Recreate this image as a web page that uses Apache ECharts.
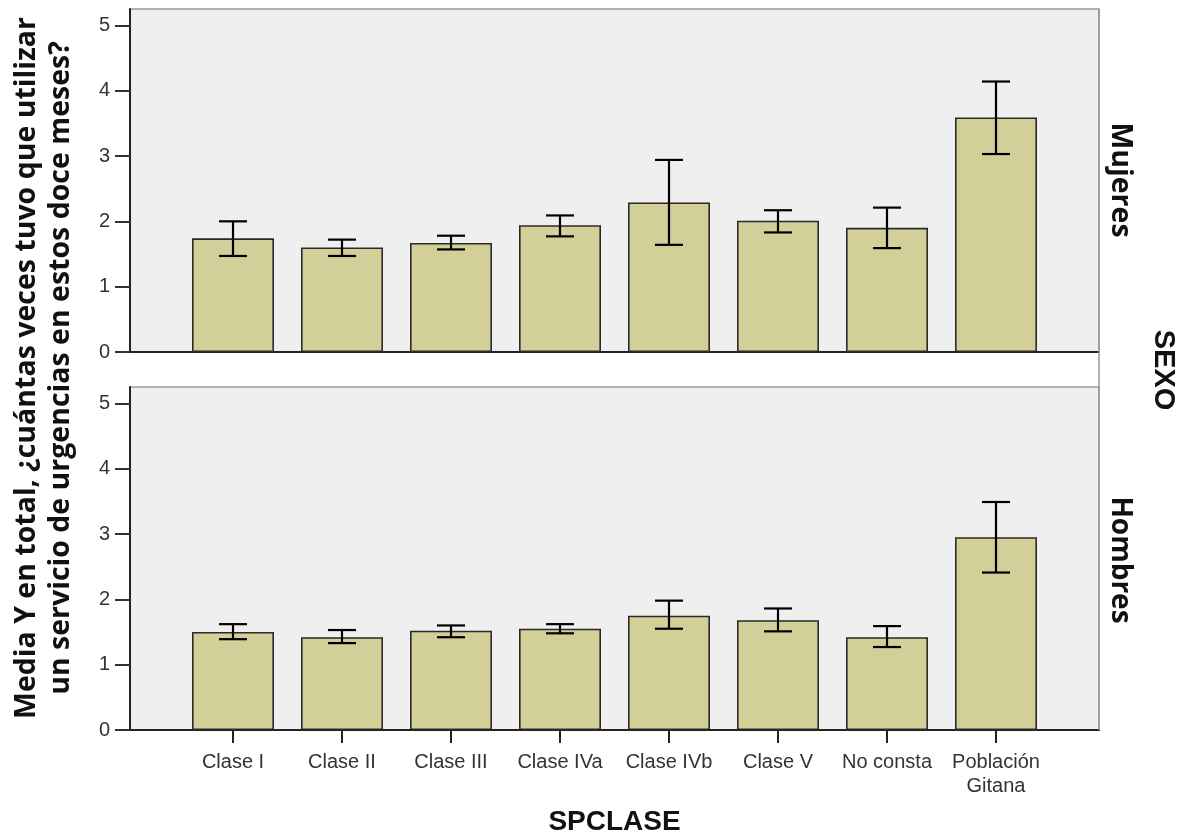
<!DOCTYPE html>
<html>
<head>
<meta charset="utf-8">
<script src="https://cdn.jsdelivr.net/npm/echarts@6/dist/echarts.min.js"></script>
<style>
html,body{margin:0;padding:0;background:#fff;}
#chart{width:1179px;height:836px;}
</style>
</head>
<body>
<div id="chart"></div>
<script>
const categories = ['Clase I','Clase II','Clase III','Clase IVa','Clase IVb','Clase V','No consta','Población\nGitana'];
const mujeresMean = [1.74,1.60,1.67,1.94,2.29,2.01,1.90,3.59];
const mujeresLow  = [1.47,1.47,1.57,1.77,1.64,1.83,1.59,3.03];
const mujeresHigh = [2.00,1.72,1.78,2.09,2.94,2.17,2.21,4.14];
const hombresMean = [1.50,1.42,1.52,1.55,1.75,1.68,1.42,2.95];
const hombresLow  = [1.39,1.33,1.42,1.48,1.55,1.51,1.27,2.41];
const hombresHigh = [1.62,1.53,1.60,1.62,1.98,1.86,1.59,3.49];
const yTicks = [0,1,2,3,4,5];
const yMax = 5.25;
const panelNames = ['Mujeres','Hombres'];
const yTitle = 'Media Y en total, ¿cuántas veces tuvo que utilizar\nun servicio de urgencias en estos doce meses?';
const xTitle = 'SPCLASE';
const facetTitle = 'SEXO';

const chart = echarts.init(document.getElementById('chart'), null, {renderer:'canvas'});

const panelTop = [9, 387];
const panelH = 343;
const frameL = 130, frameR = 1179 - 1099;
const barL = 178.5, barR = 1179 - 1050.5;

const grids = [];
panelTop.forEach(t => {
  grids.push({left: frameL, right: frameR, top: t, height: panelH, show: true,
    backgroundColor: '#efefef', borderColor: '#9a9a9a', borderWidth: 1.5});
  grids.push({left: barL, right: barR, top: t, height: panelH, show: false});
});

const xAxes = [], yAxes = [];
[0,1].forEach(p => {
  xAxes.push({gridIndex: p*2, type: 'value', min: 0, max: 1,
    axisLine: {show: true, lineStyle: {color: '#222', width: 2}},
    axisTick: {show: false}, axisLabel: {show: false}, splitLine: {show: false}});
  yAxes.push({gridIndex: p*2, type: 'value', min: 0, max: yMax,
    axisLine: {show: true, lineStyle: {color: '#222', width: 2}},
    axisTick: {show: true, length: 15, customValues: yTicks, lineStyle: {color: '#333', width: 2}},
    axisLabel: {show: true, customValues: yTicks, fontSize: 20, color: '#333', margin: 20,
      fontFamily: '"Liberation Sans", Arial, sans-serif'},
    splitLine: {show: false}});
  xAxes.push({gridIndex: p*2+1, type: 'category', data: categories, boundaryGap: true,
    axisLine: {show: false},
    axisTick: {show: p === 1, alignWithLabel: true, length: 13, lineStyle: {color: '#222', width: 2}},
    axisLabel: {show: p === 1, fontSize: 20, color: '#333', margin: 20, lineHeight: 24,
      fontFamily: '"Liberation Sans", Arial, sans-serif', interval: 0},
    splitLine: {show: false}});
  yAxes.push({gridIndex: p*2+1, type: 'value', min: 0, max: yMax, show: false});
});

function errData(lo, hi) { return categories.map((c, i) => [i, lo[i], hi[i]]); }

function errRender(params, api) {
  const x = api.value(0);
  const lo = api.coord([x, api.value(1)]);
  const hi = api.coord([x, api.value(2)]);
  const hw = 14;
  const st = {stroke: '#000', lineWidth: 2.2};
  return {type: 'group', children: [
    {type: 'line', shape: {x1: lo[0], y1: lo[1], x2: hi[0], y2: hi[1]}, style: st},
    {type: 'line', shape: {x1: hi[0]-hw, y1: hi[1], x2: hi[0]+hw, y2: hi[1]}, style: st},
    {type: 'line', shape: {x1: lo[0]-hw, y1: lo[1], x2: lo[0]+hw, y2: lo[1]}, style: st}
  ]};
}

const means = [mujeresMean, hombresMean];
const lows = [mujeresLow, hombresLow];
const highs = [mujeresHigh, hombresHigh];
const series = [];
[0,1].forEach(p => {
  series.push({type: 'bar', name: panelNames[p], xAxisIndex: p*2+1, yAxisIndex: p*2+1,
    data: means[p], barWidth: 82,
    itemStyle: {color: '#d3cf98', borderColor: '#2a2a2a', borderWidth: 1.6},
    silent: true, z: 3});
  series.push({type: 'custom', xAxisIndex: p*2+1, yAxisIndex: p*2+1,
    data: errData(lows[p], highs[p]), renderItem: errRender,
    encode: {x: 0, y: [1, 2]}, silent: true, z: 5});
});

const boldOpen = '"Open Sans", "Noto Sans", sans-serif';
const boldLib = '"Liberation Sans", Arial, sans-serif';

chart.setOption({
  animation: false,
  grid: grids,
  xAxis: xAxes,
  yAxis: yAxes,
  series: series,
  graphic: [
    {type: 'line', shape: {x1: 1099, y1: 9, x2: 1099, y2: 730}, style: {stroke: '#9a9a9a', lineWidth: 1.5}, z: 1},
    {type: 'text', x: 44, y: 368, rotation: Math.PI/2,
      style: {text: yTitle, font: 'bold 28.5px ' + boldOpen, fill: '#111', align: 'center', verticalAlign: 'middle', lineHeight: 34}},
    {type: 'text', x: 1120, y: 180, rotation: -Math.PI/2,
      style: {text: panelNames[0], font: 'bold 28.5px ' + boldOpen, fill: '#111', align: 'center', verticalAlign: 'middle'}},
    {type: 'text', x: 1120, y: 560, rotation: -Math.PI/2,
      style: {text: panelNames[1], font: 'bold 28px ' + boldOpen, fill: '#111', align: 'center', verticalAlign: 'middle'}},
    {type: 'text', x: 1163, y: 370, rotation: -Math.PI/2,
      style: {text: facetTitle, font: 'bold 29px ' + boldLib, fill: '#111', align: 'center', verticalAlign: 'middle'}},
    {type: 'text', x: 614.5, y: 822,
      style: {text: xTitle, font: 'bold 28px ' + boldLib, fill: '#111', align: 'center', verticalAlign: 'middle'}}
  ]
});
</script>
</body>
</html>
